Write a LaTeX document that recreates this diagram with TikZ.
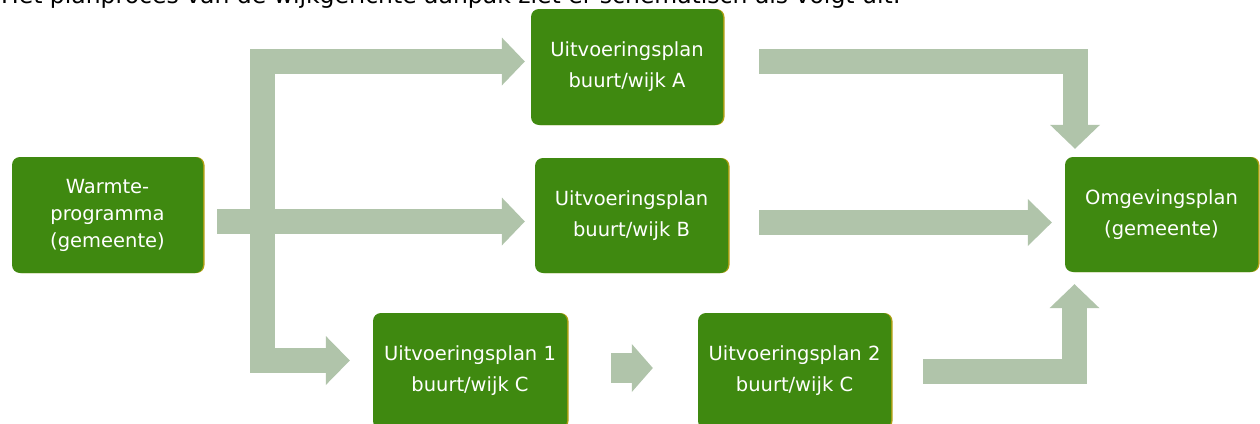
\documentclass[tikz,border=0pt]{standalone}
\usepackage{fontspec}
\setmainfont{DejaVu Sans}
\usetikzlibrary{arrows.meta,calc}
\definecolor{boxgreen}{RGB}{63,137,16}
\definecolor{boxedge}{RGB}{175,160,20}
\definecolor{arrowgreen}{RGB}{176,196,170}
\tikzset{
  planbox/.style={rectangle, rounded corners=8pt, fill=boxgreen, text=white,
    inner sep=0pt, align=center,
    preaction={fill=boxedge, transform canvas={xshift=1.5pt}},
    font=\fontsize{19.5}{31}\selectfont},
  blockarrow/.style={draw=arrowgreen, line width=25pt, line join=miter, line cap=butt,
    -{Triangle[width=48pt,length=23pt,line width=0pt]}},
}
\begin{document}
\begin{tikzpicture}[x=1pt,y=-1pt]
\useasboundingbox (0,0) rectangle (1260,423);
\clip (0,0) rectangle (1260,423);
\fill[white] (0,0) rectangle (1260,423);
% intro text (cut off at the top)
\node[anchor=base west, inner sep=0pt, font=\fontsize{23.5}{28}\selectfont] (intro) at (1,4)
  {Het planproces van de wijkgerichte aanpak ziet er schematisch als volgt uit:};
% boxes
\node[planbox, minimum width=191pt, minimum height=116pt, font=\fontsize{19.5}{27}\selectfont] (W) at (107.5,215)
  {Warmte-\\programma\\(gemeente)};
\node[planbox, minimum width=192pt, minimum height=116pt] (A) at (627,67)
  {Uitvoeringsplan\\buurt/wijk A};
\node[planbox, minimum width=193pt, minimum height=115pt] (B) at (631.5,215.5)
  {Uitvoeringsplan\\buurt/wijk B};
\node[planbox, minimum width=193pt, minimum height=115pt] (Om) at (1161.5,214.5)
  {Omgevingsplan\\(gemeente)};
\node[planbox, minimum width=194pt, minimum height=116pt] (C1) at (470,371)
  {Uitvoeringsplan 1\\buurt/wijk C};
\node[planbox, minimum width=193pt, minimum height=116pt] (C2) at (794.5,371)
  {Uitvoeringsplan 2\\buurt/wijk C};
% connector points
\coordinate (tA) at ($(A.west)+(-6,-5.5)$);
\coordinate (tC) at ($(C1.west)+(-23,-10.5)$);
\coordinate (trunk) at (262.5,0);
% trunk: to A (top) and C1 (bottom)
\draw[draw=arrowgreen, line width=25pt, line join=miter,
  {Triangle[width=48pt,length=23pt,line width=0pt]}-{Triangle[width=49pt,length=24pt,line width=0pt]}]
  (tA) -- (trunk |- tA) -- (trunk |- tC) -- (tC);
% W -> B
\draw[blockarrow] ($(W.east)+(14,6.5)$) -- ($(B.west)+(-10,6)$);
% B -> Om
\draw[blockarrow, -{Triangle[width=47pt,length=24pt,line width=0pt]}] ($(B.east)+(31,7)$) -- ($(Om.west)+(-13,8)$);
% A -> Om
\draw[blockarrow, -{Triangle[width=50pt,length=24pt,line width=0pt]}] ($(A.east)+(36,-5.5)$) -| ($(Om.north)+(-86.5,-8)$);
% C2 -> Om
\draw[blockarrow, -{Triangle[width=50pt,length=24pt,line width=0pt]}] ($(C2.east)+(32,0.5)$) -| ($(Om.south)+(-87,12)$);
% C1 -> C2
\draw[blockarrow, line width=30pt, -{Triangle[width=48pt,length=21pt,line width=0pt]}] ($(C1.east)+(44,-3)$) -- ($(C2.west)+(-45,-3)$);
\end{tikzpicture}
\end{document}
